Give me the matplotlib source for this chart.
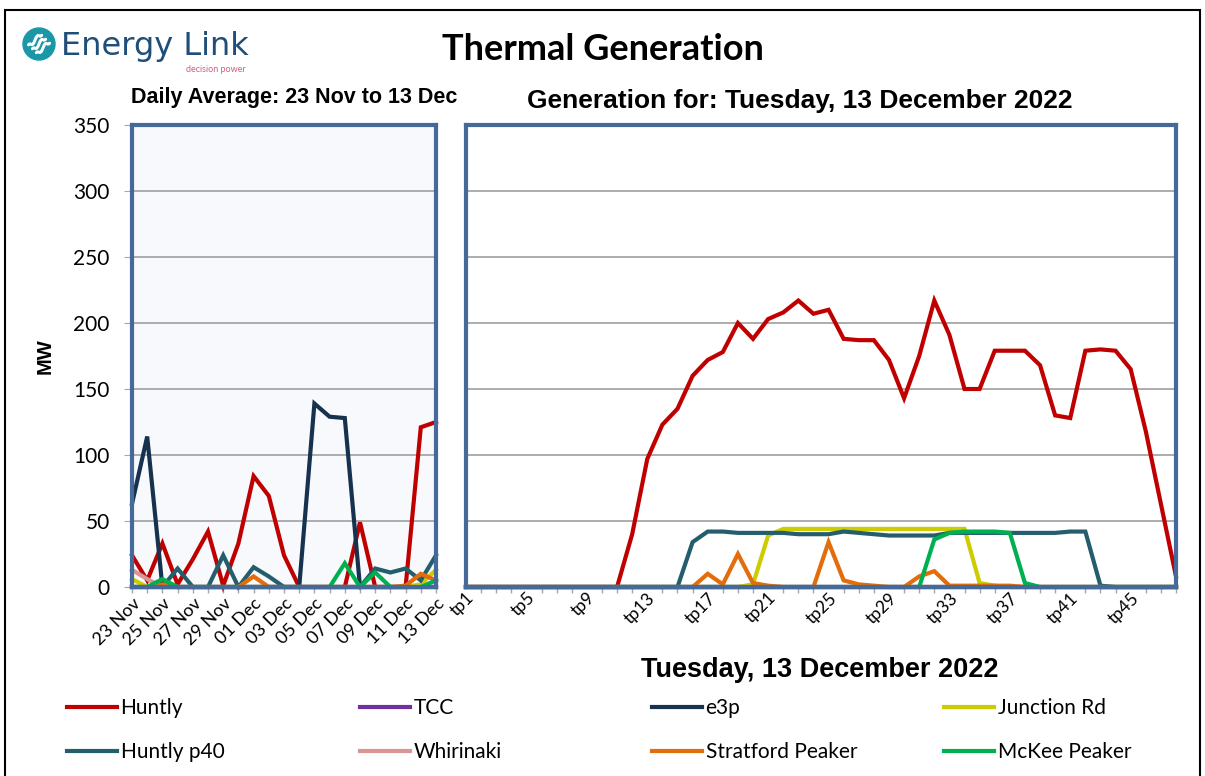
import numpy as np
import matplotlib.pyplot as plt
from matplotlib.patches import Circle, Rectangle
from matplotlib.lines import Line2D

# daily averages, 23 Nov - 13 Dec
days = ['23 Nov', '24 Nov', '25 Nov', '26 Nov', '27 Nov', '28 Nov', '29 Nov', '30 Nov',
        '01 Dec', '02 Dec', '03 Dec', '04 Dec', '05 Dec', '06 Dec', '07 Dec', '08 Dec',
        '09 Dec', '10 Dec', '11 Dec', '12 Dec', '13 Dec']
d_huntly = [24, 5, 33, 2, 21, 42, 1, 33, 84, 69, 24, 0, 0, 0, 0, 49, 0, 0, 0, 121, 125]
d_tcc = [0, 0, 0, 0, 0, 0, 0, 0, 0, 0, 0, 0, 0, 0, 0, 0, 0, 0, 0, 0, 0]
d_e3p = [63, 114, 0, 0, 0, 0, 0, 0, 0, 0, 0, 0, 139, 129, 128, 0, 0, 0, 0, 0, 0]
d_junction = [6, 0, 0, 0, 0, 0, 0, 0, 0, 0, 0, 0, 0, 0, 0, 0, 0, 0, 0, 2, 13]
d_p40 = [0, 0, 0, 14, 0, 0, 24, 0, 15, 8, 0, 0, 0, 0, 0, 0, 14, 11, 14, 5, 24]
d_whirinaki = [13, 6, 0, 0, 0, 0, 0, 0, 0, 0, 0, 0, 0, 0, 0, 0, 0, 0, 0, 0, 0]
d_stratford = [0, 0, 2, 0, 0, 0, 0, 0, 8, 0, 0, 0, 0, 0, 0, 0, 0, 0, 1, 10, 5]
d_mckee = [0, 0, 6, 0, 0, 0, 0, 0, 0, 0, 0, 0, 0, 0, 18, 0, 11, 0, 0, 0, 5]

# trading periods, 13 Dec 2022
periods = ['tp%d' % (i + 1) for i in range(48)]
t_huntly = [0, 0, 0, 0, 0, 0, 0, 0, 0, 0, 0, 40, 97, 123, 135, 160, 172, 178, 200, 188,
            203, 208, 217, 207, 210, 188, 187, 187, 172, 143, 175, 217, 191, 150, 150, 179,
            179, 179, 168, 130, 128, 179, 180, 179, 165, 118, 63, 8]
t_tcc = [0, 0, 0, 0, 0, 0, 0, 0, 0, 0, 0, 0, 0, 0, 0, 0, 0, 0, 0, 0, 0, 0, 0, 0,
         0, 0, 0, 0, 0, 0, 0, 0, 0, 0, 0, 0, 0, 0, 0, 0, 0, 0, 0, 0, 0, 0, 0, 0]
t_e3p = [0, 0, 0, 0, 0, 0, 0, 0, 0, 0, 0, 0, 0, 0, 0, 0, 0, 0, 0, 0, 0, 0, 0, 0,
         0, 0, 0, 0, 0, 0, 0, 0, 0, 0, 0, 0, 0, 0, 0, 0, 0, 0, 0, 0, 0, 0, 0, 0]
t_junction = [0, 0, 0, 0, 0, 0, 0, 0, 0, 0, 0, 0, 0, 0, 0, 0, 0, 0, 0, 2, 39, 44, 44, 44,
              44, 44, 44, 44, 44, 44, 44, 44, 44, 44, 3, 1, 0, 0, 0, 0, 0, 0, 0, 0, 0, 0, 0, 0]
t_p40 = [0, 0, 0, 0, 0, 0, 0, 0, 0, 0, 0, 0, 0, 0, 0, 34, 42, 42, 41, 41, 41, 41, 40, 40,
         40, 42, 41, 40, 39, 39, 39, 39, 41, 41, 41, 41, 41, 41, 41, 41, 42, 42, 1, 0, 0, 0, 0, 0]
t_whirinaki = [0, 0, 0, 0, 0, 0, 0, 0, 0, 0, 0, 0, 0, 0, 0, 0, 0, 0, 0, 0, 0, 0, 0, 0,
               0, 0, 0, 0, 0, 0, 0, 0, 0, 0, 0, 0, 0, 0, 0, 0, 0, 0, 0, 0, 0, 0, 0, 0]
t_stratford = [0, 0, 0, 0, 0, 0, 0, 0, 0, 0, 0, 0, 0, 0, 0, 0, 10, 2, 25, 3, 1, 0, 0, 0,
               34, 5, 2, 1, 0, 0, 8, 12, 1, 1, 1, 1, 1, 0, 0, 0, 0, 0, 0, 0, 0, 0, 0, 0]
t_mckee = [0, 0, 0, 0, 0, 0, 0, 0, 0, 0, 0, 0, 0, 0, 0, 0, 0, 0, 0, 0, 0, 0, 0, 0,
           0, 0, 0, 0, 0, 0, 0, 36, 41, 42, 42, 42, 41, 3, 0, 0, 0, 0, 0, 0, 0, 0, 0, 0]

names = ['Huntly', 'TCC', 'e3p', 'Junction Rd', 'Huntly p40', 'Whirinaki',
         'Stratford Peaker', 'McKee Peaker']
colors = ['#C00000', '#7030A0', '#17324F', '#CCCC00', '#245E6D', '#D99694',
          '#E46C0A', '#00B050']
daily = [d_huntly, d_tcc, d_e3p, d_junction, d_p40, d_whirinaki, d_stratford, d_mckee]
tps = [t_huntly, t_tcc, t_e3p, t_junction, t_p40, t_whirinaki, t_stratford, t_mckee]

plt.rcParams['font.family'] = ['Lato', 'DejaVu Sans']
frame_col = '#456A9A'
grid_col = '#A6A6A6'
arial = 'Liberation Sans'

fig = plt.figure(figsize=(12.05, 7.76), dpi=100)
W, H = 1205, 776

def box(l, t, r, b):
    return [l / W, 1 - b / H, (r - l) / W, (b - t) / H]

axL = fig.add_axes(box(132, 125, 436, 587))
axR = fig.add_axes(box(466, 125, 1176, 587))

xs_d = list(range(len(days)))
xs_t = list(range(len(periods)))
lines = []
for name, col, d, t in zip(names, colors, daily, tps):
    axL.plot(xs_d, d, color=col, lw=3, solid_joinstyle='miter', clip_on=False, zorder=3)
    ln, = axR.plot(xs_t, t, color=col, lw=3, solid_joinstyle='miter', clip_on=False,
                   zorder=3, label=name)
    lines.append(ln)

for ax in (axL, axR):
    ax.set_ylim(0, 350)
    ax.set_yticks(range(0, 351, 50))
    ax.grid(axis='y', color=grid_col, lw=1.3)
    ax.set_axisbelow(True)
    for s in ax.spines.values():
        s.set_color(frame_col)
        s.set_linewidth(3)
        s.set_zorder(4)
    ax.tick_params(axis='x', which='both', length=4, color=grid_col, width=1,
                   labelsize=13, pad=2)

axL.set_facecolor('#F7F9FC')
axL.set_xlim(0, len(days) - 1)
axL.set_xticks(xs_d, minor=True)
axL.set_xticks(xs_d[::2])
axL.set_xticklabels(days[::2], rotation=45, ha='right', rotation_mode='anchor')
axL.tick_params(axis='y', length=6, color=grid_col, labelsize=15, pad=10)
axL.set_ylabel('MW', fontsize=14.5, fontweight='bold', family=arial)
axL.yaxis.set_label_coords(-0.255, 0.5)

axR.set_xlim(0, len(periods) - 1)
axR.set_xticks(xs_t, minor=True)
axR.set_xticks(xs_t[::4])
axR.set_xticklabels(periods[::4], rotation=45, ha='right', rotation_mode='anchor')
axR.tick_params(axis='y', left=False, labelleft=False)
axR.tick_params(axis='x', which='major', length=0, labelsize=12.5)

# titles
fig.text(603 / W, 1 - 50 / H, 'Thermal Generation', fontsize=26, fontweight='bold',
         ha='center', va='center')
fig.text(294 / W, 1 - 97 / H, 'Daily Average: 23 Nov to 13 Dec', fontsize=15.5,
         fontweight='bold', family=arial, ha='center', va='center')
fig.text(800 / W, 1 - 101 / H, 'Generation for: Tuesday, 13 December 2022', fontsize=19,
         fontweight='bold', family=arial, ha='center', va='center')
fig.text(820 / W, 1 - 670 / H, 'Tuesday, 13 December 2022', fontsize=19.5,
         fontweight='bold', family=arial, ha='center', va='center')

# logo
cx, cy, r = 0.39, (H - 44) / 100, 0.16
fig.patches.append(Circle((cx, cy), r, transform=fig.dpi_scale_trans, color='#1A98A8'))
u = np.linspace(-0.55, 0.55, 30)
for off in (-0.45, 0.0, 0.45):
    px = cx + r * (u * 0.75 + off * 0.55)
    py = cy + r * (u * 0.75 - off * 0.55 + 0.12 * np.sin(u * 9))
    fig.add_artist(Line2D(px, py, transform=fig.dpi_scale_trans, color='white', lw=2.2,
                          solid_capstyle='round'))
fig.text(61 / W, 1 - 46 / H, 'Energy Link', fontsize=23, color='#1F4E79',
         family='Liberation Sans Narrow', ha='left', va='center')
fig.text(246 / W, 1 - 70 / H, 'decision power', fontsize=6.5, color='#D0607A',
         ha='right', va='center')

# outer border
fig.patches.append(Rectangle((5 / W, -0.05), 1195 / W, 1.05 - 10 / H,
                             transform=fig.transFigure, fill=False, ec='black', lw=1.5))

# legend: 4 columns of 2
col_x = [57, 350, 642, 934]
for k, x in enumerate(col_x):
    fig.legend([lines[k], lines[k + 4]], [names[k], names[k + 4]],
               loc='upper left', bbox_to_anchor=(x / W, 1 - 688 / H),
               frameon=False, fontsize=15, handlelength=2.4, handletextpad=0.15,
               labelspacing=1.15, borderpad=0)

fig.savefig('out.png', dpi=100)
